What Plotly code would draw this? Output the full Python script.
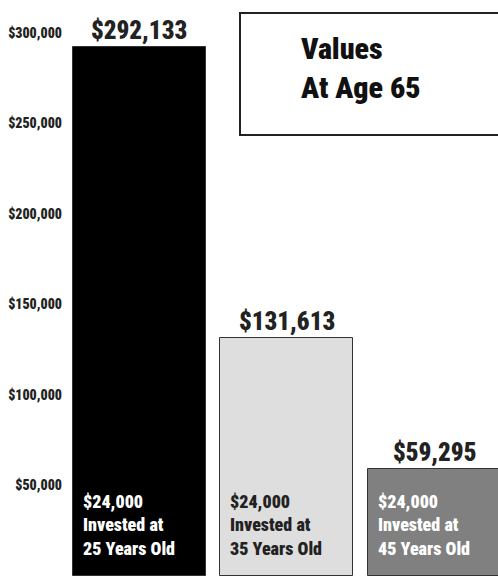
import plotly.graph_objects as go

categories = ["25 Years Old", "35 Years Old", "45 Years Old"]
values = [292133, 131613, 59295]
invested = ["$24,000", "$24,000", "$24,000"]
bar_colors = ["#000000", "#dedede", "#808080"]
inner_text_colors = ["#ffffff", "#222222", "#ffffff"]
tick_vals = [50000, 100000, 150000, 200000, 250000, 300000]
tick_text = ["$50,000", "$100,000", "$150,000", "$200,000", "$250,000", "$300,000"]
title_lines = ["Values", "At Age 65"]

FONT = "Roboto Condensed, Roboto, sans-serif"

x = list(range(len(categories)))

fig = go.Figure()
fig.add_trace(go.Bar(
    x=x, y=values, width=0.903,
    marker=dict(color=bar_colors, line=dict(color="#333333", width=1)),
    hoverinfo="skip",
))

annotations = []
for i, v in enumerate(values):
    annotations.append(dict(
        x=i, y=v, xref="x", yref="y", text="$" + f"{v:,}",
        showarrow=False, yanchor="bottom", yshift=0,
        font=dict(family=FONT, size=25, color="#222222", weight=900),
    ))
    annotations.append(dict(
        x=i - 0.4515, y=28000, xref="x", yref="y",
        text=invested[i] + "<br>Invested at<br>" + categories[i],
        showarrow=False, xanchor="left", yanchor="middle", align="left", xshift=8,
        font=dict(family=FONT, size=18, color=inner_text_colors[i], weight=900),
    ))

plot_w = 498 - 68
annotations.append(dict(
    x=(299 - 68) / plot_w, y=1 - 68 / 576, xref="paper", yref="paper", showarrow=False,
    text="<br>".join(title_lines), xanchor="left", yanchor="middle",
    font=dict(family=FONT, size=30, color="#111111", weight=900), align="left",
))

fig.update_layout(
    width=498, height=576,
    margin=dict(l=68, r=0, t=0, b=0),
    paper_bgcolor="white", plot_bgcolor="white",
    showlegend=False,
    bargap=0,
    annotations=annotations,
    xaxis=dict(range=[-0.485, 2.434], showticklabels=False, showgrid=False,
               zeroline=False, showline=False, ticks=""),
    yaxis=dict(range=[0, 318200], tickvals=tick_vals, ticktext=tick_text,
               showgrid=False, zeroline=False, showline=False, ticks="",
               tickfont=dict(family=FONT, size=14, color="#222222", weight=900),
               ticklabelstandoff=5),
)

fig.add_shape(type="rect", xref="paper", yref="paper",
              x0=(240 - 68) / plot_w, x1=(505 - 68) / plot_w,
              y0=1 - 135 / 576, y1=1 - 13 / 576,
              line=dict(color="#222222", width=2), fillcolor="white", layer="below")

fig.write_html("out.html")
